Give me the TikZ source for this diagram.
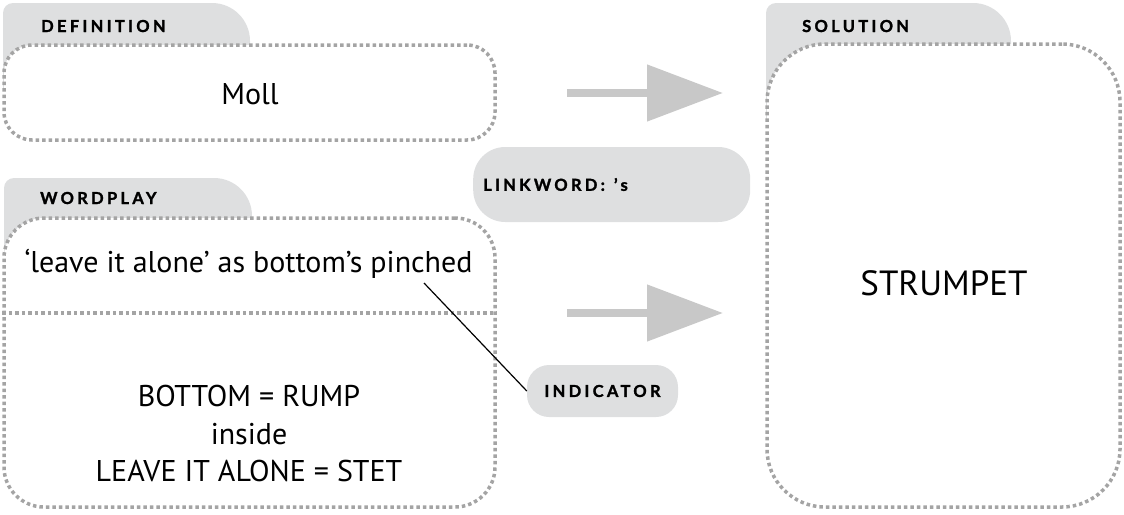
\documentclass[tikz,border=0pt]{standalone}
\usepackage{fontspec}
\setmainfont{PT Sans}
\newfontfamily\labfont[LetterSpace=20, FakeBold=1.6]{Lato}
\usetikzlibrary{arrows.meta}
\definecolor{tabgray}{HTML}{DEDFE0}
\definecolor{dotgray}{HTML}{A4A4A4}
\definecolor{arrgray}{HTML}{C8C8C8}
\tikzset{
 tabshape/.style={fill=tabgray},
 dotbox/.style={draw=dotgray, line width=3.5pt, dash pattern=on 3.5pt off 3pt, fill=white, inner sep=0pt},
 dotline/.style={draw=dotgray, line width=3.5pt, dash pattern=on 3.5pt off 3pt},
 labfontstyle/.style={font=\labfont\bfseries\fontsize{16.5}{18}\selectfont},
 lab/.style={labfontstyle, anchor=base west, inner sep=0pt},
 body/.style={inner sep=0pt, anchor=base, font=\fontsize{30}{36}\selectfont},
 pill/.style={fill=tabgray, labfontstyle},
 bigarrow/.style={draw=arrgray, line width=8pt, -{Triangle[length=76pt,width=55pt]}},
}
\begin{document}
\begin{tikzpicture}[x=1pt,y=-1pt]
\useasboundingbox (0,0) rectangle (1124,514);
% tabs
\fill[tabshape] (3,90) [rounded corners=10pt] -- (3,3) [rounded corners=38pt] -- (250,3) [sharp corners] -- (250,90) -- cycle;
\fill[tabshape] (4,270) [rounded corners=10pt] -- (4,178) [rounded corners=38pt] -- (252,178) [sharp corners] -- (252,270) -- cycle;
\fill[tabshape] (766,120) [rounded corners=10pt] -- (766,3) [rounded corners=38pt] -- (1011,3) [sharp corners] -- (1011,120) -- cycle;
\node[lab] (tdef) at (41,32) {DEFINITION};
\node[lab] (twp) at (40,204) {WORDPLAY};
\node[lab] (tsol) at (802,32) {SOLUTION};
% boxes
\node[dotbox, rounded corners=28pt, minimum width=491pt, minimum height=95pt] (def) at (249.5,92.5) {};
\node[dotbox, rounded corners=40pt, minimum width=491pt, minimum height=289pt] (wp) at (249.5,362.5) {};
\node[dotbox, rounded corners=58pt, minimum width=353pt, minimum height=463pt] (sol) at (943.5,275.5) {};
\draw[dotline] (wp.west |- 0,313) -- (wp.east |- 0,313);
% texts
\node[body] (moll) at (250,104) {Moll};
\node[body] (clue) at (248.5,272) {‘leave it alone’ as bottom’s pinched};
\node[body] (wp1) at (249,406) {BOTTOM = RUMP};
\node[body] (wp2) at (249,444) {inside};
\node[body] (wp3) at (249,481) {LEAVE IT ALONE = STET};
\node[body, font=\fontsize{35}{40}\selectfont] (strum) at (944,295) {STRUMPET};
% pills
\node[pill, rounded corners=32pt, minimum height=75pt, text width=257pt, inner xsep=10pt, align=left, anchor=west] (lw) at (473,184.5) {LINKWORD:\hspace{9pt}’s};
\node[pill, rounded corners=22pt, minimum width=151pt, minimum height=52pt, inner sep=0pt] (ind) at (602.5,391) {INDICATOR};
% connector
\coordinate (pin) at (424,283);
\draw[line width=1.2pt] (pin) -- (ind.west);
% arrows
\coordinate (a1s) at (567,93);
\coordinate (a1e) at (723,93);
\coordinate (a2s) at (567,313);
\coordinate (a2e) at (723,313);
\draw[bigarrow] (a1s) -- (a1e);
\draw[bigarrow] (a2s) -- (a2e);
\end{tikzpicture}
\end{document}
